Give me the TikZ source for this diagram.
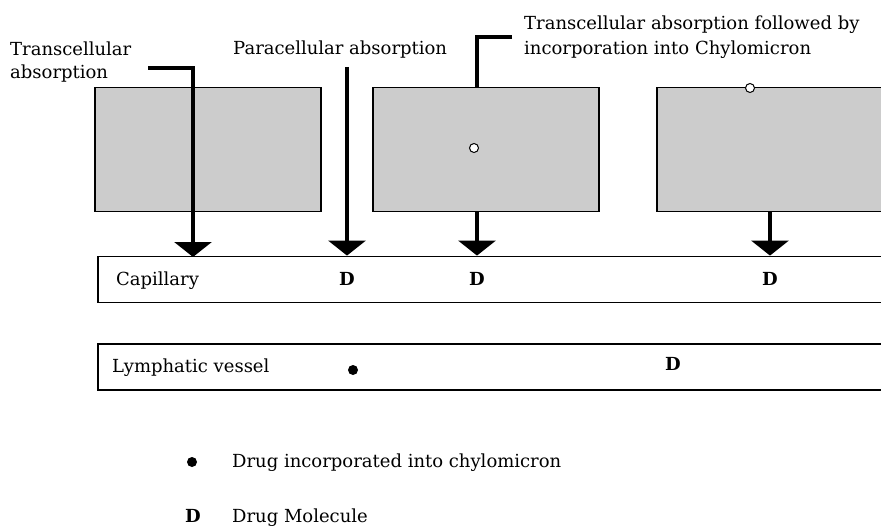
\documentclass[tikz,border=0pt]{standalone}
\usepackage{fontspec}
\setmainfont{DejaVu Serif}
\usetikzlibrary{arrows.meta, positioning, calc}

\begin{document}
\begin{tikzpicture}[x=1pt,y=-1pt,
  cell/.style={draw,line width=1.8pt,fill=black!20,minimum width=226pt,minimum height=124pt,inner sep=0pt},
  vessel/.style={draw,line width=1.8pt,minimum width=830pt,minimum height=46pt,inner sep=0pt,anchor=west},
  lbl/.style={font=\fontsize{18}{23}\selectfont,align=left,inner sep=0pt},
  mol/.style={font=\fontsize{18}{23}\selectfont\bfseries,inner sep=0pt},
  flow/.style={line width=3.5pt,-{Triangle[width=37pt,length=15pt]}},
  lead/.style={line width=3.5pt},
  pore/.style={circle,draw,fill=white,line width=1pt,minimum size=9pt,inner sep=0pt},
  drop/.style={circle,fill=black,minimum size=10pt,inner sep=0pt}]
\clip (0,0) rectangle (881,527);

% cells of the gut wall
\node[cell] (cell1) at (208,149.5) {};
\node[cell] (cell2) at (486,149.5) {};
\node[cell] (cell3) at (770,149.5) {};
\node[pore] (pore2) at (474,148) {};
\node[pore] (pore3) at (750,88) {};

% vessels
\node[vessel] (cap) at (97,279.5) {};
\node[vessel] (lymph) at (97,367) {};
\node[lbl,anchor=base west] (caplbl) at (116,285) {Capillary};
\node[lbl,anchor=base west] (lymphlbl) at (112,372) {Lymphatic vessel};
\node[mol] (capd1) at (347,279) {D};
\node[mol] (capd2) at (477,279) {D};
\node[mol] (capd3) at (770,279) {D};
\node[drop] (lymphdrop) at (353,370) {};
\node[mol] (lymphd) at (673,364) {D};

% routes
\node[lbl,anchor=north west] (trans) at (10,42) {Transcellular\\absorption};
\node[lbl,anchor=base west] (para) at (233,55) {Paracellular absorption};
\node[lbl,anchor=north west] (chylo) at (524,16) {Transcellular absorption followed by\\[2pt] incorporation into Chylomicron};
\coordinate (transin) at (148,68);
\coordinate (transout) at (193,257);
\draw[flow] (transin) -| (transout);
\coordinate (parain) at (347,67);
\draw[flow] (parain) -- (parain |- cap.north);
\coordinate (chyloin) at (512,37);
\coordinate (chylox) at (477,0);
\draw[lead] (chyloin) -| (chylox |- cell2.north);
\draw[flow] (chylox |- cell2.south) -- (chylox |- cap.north);
\draw[flow] (cell3.south) -- (cell3.south |- cap.north);

% key
\node[drop] (keydrop) at (192,462) {};
\node[lbl,anchor=base west] (keydroplbl) at (232,467) {Drug incorporated into chylomicron};
\node[mol,anchor=base] (keyd) at (193,522) {D};
\node[lbl,anchor=base west] (keydlbl) at (232,522) {Drug Molecule};
\end{tikzpicture}
\end{document}
